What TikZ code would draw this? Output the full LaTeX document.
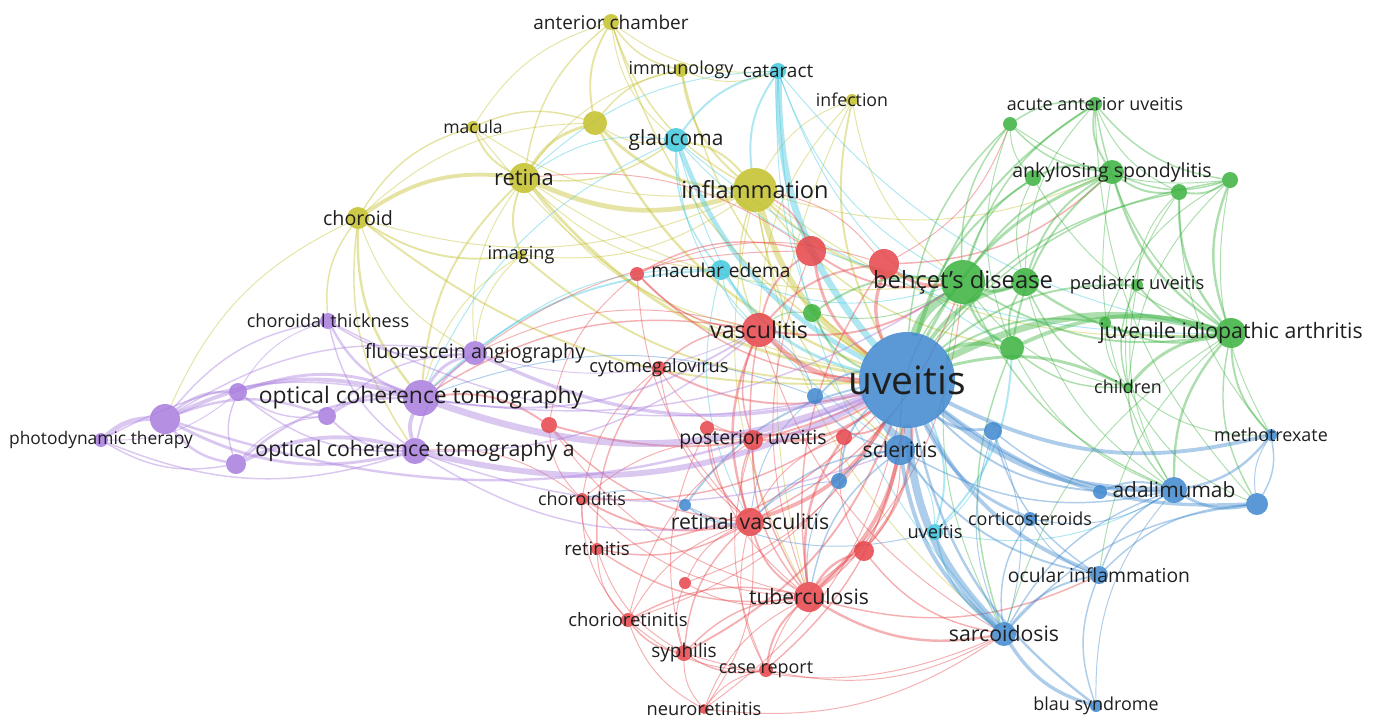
\documentclass[tikz,border=0pt]{standalone}
\usepackage{fontspec}
\setmainfont{Open Sans}
\usetikzlibrary{backgrounds}

\definecolor{vyellow}{RGB}{196,192,40}
\definecolor{vcyan}{RGB}{64,200,222}
\definecolor{vred}{RGB}{230,68,72}
\definecolor{vgreen}{RGB}{58,178,62}
\definecolor{vblue}{RGB}{62,136,206}
\definecolor{vpurple}{RGB}{168,124,222}

\tikzset{
  kw/.style={circle, inner sep=0pt, draw=none, fill=#1, fill opacity=0.85},
  lbl/.style={font=\fontsize{#1}{#1}\selectfont, text=black!88, inner sep=0pt},
  link/.style={draw=#1, draw opacity=0.42, line cap=round}
}

\begin{document}
\begin{tikzpicture}[x=0.02cm, y=-0.02cm]

  \useasboundingbox (0,0) rectangle (1381,718);

  % Draw the keyword circles (name/x/y/radius/colour)
  \foreach \n/\x/\y/\r/\c in {
      antch/611/22/8/vyellow, immun/681/70/7/vyellow, y1/595/123/12/vyellow,
      macula/473/127/6/vyellow, retina/524/178/15/vyellow, inflam/755/190/22/vyellow,
      choroid/358/218/11/vyellow, imaging/521/255/5/vyellow, infect/852/100/6/vyellow,
      catar/778/71/8/vcyan, glauc/676/140/12/vcyan, macedema/721/270/10/vcyan,
      uveitis2/935/532/8/vcyan,
      r1/811/251/15/vred, r2/884/264/15/vred, r3/637/274/7/vred, vascul/759/330/17/vred,
      cmv/659/368/7/vred, r4/549/425/8/vred, r5/707/428/7/vred, postuv/753/440/10/vred,
      r6/844/437/8/vred, choroiditis/582/499/6/vred, retvasc/750/522/14/vred,
      retinitis/597/549/6/vred, r7/864/551/10/vred, r8/685/583/6/vred, tb/809/597/15/vred,
      chorioret/628/620/7/vred, syph/684/653/8/vred, casrep/766/670/7/vred,
      neuroret/704/709/5/vred,
      aau/1095/104/7/vgreen, g1/1010/124/7/vgreen, ankspond/1112/172/12/vgreen,
      g2/1033/178/8/vgreen, g3/1179/192/8/vgreen, g4/1230/180/8/vgreen,
      behcet/963/282/22/vgreen, g5/1025/282/14/vgreen, peduv/1137/285/6/vgreen,
      g6/812/313/9/vgreen, g7/1105/323/6/vgreen, jia/1231/333/15/vgreen,
      g8/1012/348/12/vgreen, children/1128/387/5/vgreen,
      uveitis/907/380/48/vblue, b1/815/396/8/vblue, b2/993/431/9/vblue,
      scler/900/450/15/vblue, mtx/1271/435/6/vblue, b3/839/481/8/vblue,
      adalim/1174/490/13/vblue, b4/1100/492/7/vblue, b5/1257/504/11/vblue,
      b6/685/505/6/vblue, cortic/1030/519/7/vblue, ocinfl/1099/575/9/vblue,
      sarc/1004/634/12/vblue, blau/1096/706/6/vblue,
      chthick/328/321/8/vpurple, fa/475/353/12/vpurple, oct/421/398/18/vpurple,
      p1/238/392/9/vpurple, p2/327/416/9/vpurple, p3/165/419/15/vpurple,
      pdt/101/440/7/vpurple, octa/415/451/13/vpurple, p4/236/464/10/vpurple}
    \node[kw=\c, minimum size={0.04cm*\r}] (\n) at (\x,\y) {};

  \begin{pgfonlayer}{background}
    \fill[white] (0,0) rectangle (1381,718);

    % Yellow links
    \foreach \a/\b/\w in {
        antch/immun/1.5, antch/y1/2, antch/retina/1.5, antch/inflam/1.5, antch/glauc/1,
        antch/macula/1, antch/uveitis/1.5, antch/catar/1, immun/y1/1.5, immun/inflam/2,
        immun/uveitis/1.5, immun/retina/1, immun/catar/1, y1/retina/3, y1/inflam/3,
        y1/uveitis/2.5, y1/glauc/1, y1/macula/1.5, y1/choroid/1,
        macula/retina/2, macula/choroid/1.5, macula/inflam/1, macula/uveitis/1,
        retina/inflam/5, retina/choroid/4, retina/imaging/2, retina/uveitis/3, retina/oct/2,
        retina/fa/1, retina/vascul/1, retina/macedema/1, retina/glauc/1.5, retina/behcet/1,
        choroid/oct/2.5, choroid/imaging/2, choroid/inflam/1, choroid/uveitis/2,
        choroid/chthick/1.5, choroid/fa/1, choroid/octa/1.5, choroid/p3/1,
        imaging/uveitis/2, imaging/oct/1, imaging/inflam/1, imaging/fa/1,
        inflam/uveitis/6, inflam/behcet/2.5, inflam/glauc/2, inflam/vascul/1.5, inflam/scler/1.5,
        inflam/jia/1, inflam/sarc/1, inflam/tb/1, inflam/ankspond/1, inflam/g8/1.5,
        infect/uveitis/2, infect/inflam/1, infect/behcet/1, infect/tb/1, infect/vascul/1}
      \draw[link=vyellow, line width=\w*0.55pt] (\a) to[bend right=20] (\b);

    % Cyan links
    \foreach \a/\b/\w in {
        catar/uveitis/7, catar/glauc/2, catar/inflam/2, catar/behcet/1, catar/jia/1,
        catar/retina/1, catar/scler/1, catar/sarc/1, catar/g8/1,
        glauc/uveitis/5, glauc/macedema/1.5, glauc/retina/1, glauc/jia/1,
        glauc/scler/1, glauc/vascul/1, glauc/behcet/1, glauc/oct/1,
        macedema/uveitis/3, macedema/vascul/1, macedema/oct/2,
        macedema/retvasc/1, macedema/behcet/1, macedema/fa/1,
        uveitis2/uveitis/2, uveitis2/sarc/1.5, uveitis2/b2/1,
        uveitis2/g8/2, uveitis2/scler/1, uveitis2/adalim/1}
      \draw[link=vcyan, line width=\w*0.55pt] (\a) to[bend right=20] (\b);

    % Red links
    \foreach \a/\b/\w in {
        r1/uveitis/3, r1/vascul/2, r1/behcet/2, r1/retina/1, r1/inflam/1.5, r1/r3/1.5,
        r1/oct/1, r1/tb/1,
        r2/uveitis/3.5, r2/behcet/3, r2/vascul/2, r2/ankspond/1.5, r2/inflam/1, r2/tb/1.5,
        r2/r3/1, r2/g1/1,
        r3/vascul/1.5, r3/r4/1, r3/uveitis/1.5, r3/retvasc/1,
        vascul/uveitis/5, vascul/retvasc/2.5, vascul/behcet/2, vascul/tb/1.5, vascul/cmv/1.5,
        vascul/postuv/1.5, vascul/oct/1.5, vascul/fa/1, vascul/sarc/1,
        cmv/uveitis/2, cmv/retinitis/1.5, cmv/postuv/1, cmv/choroiditis/1, cmv/retvasc/1,
        r4/uveitis/2, r4/oct/2, r4/retvasc/1.5, r4/choroiditis/1, r4/tb/1,
        r5/uveitis/2, r5/retvasc/1.5, r5/tb/1, r5/syph/1,
        postuv/uveitis/3, postuv/retvasc/1.5, postuv/tb/1.5, postuv/choroiditis/1,
        postuv/chorioret/1, postuv/casrep/1,
        r6/uveitis/2, r6/tb/2.5, r6/retvasc/1, r6/r7/1,
        choroiditis/retvasc/2, choroiditis/tb/1, choroiditis/uveitis/1.5,
        choroiditis/chorioret/1, choroiditis/retinitis/1, choroiditis/octa/1,
        retvasc/uveitis/4, retvasc/tb/2, retvasc/syph/1.5, retvasc/r8/1, retvasc/behcet/1.5,
        retvasc/chorioret/1, retvasc/casrep/1,
        retinitis/tb/1.5, retinitis/syph/1, retinitis/uveitis/1.5,
        retinitis/chorioret/1, retinitis/retvasc/1.5,
        r7/uveitis/3, r7/tb/2.5, r7/casrep/1, r7/sarc/1.5, r7/scler/1,
        r8/tb/1, r8/syph/1, r8/uveitis/1,
        tb/uveitis/4, tb/sarc/2.5, tb/syph/1.5, tb/casrep/2, tb/chorioret/1.5, tb/neuroret/1,
        tb/ocinfl/1.5, tb/behcet/1, tb/scler/1.5,
        chorioret/syph/1.5, chorioret/neuroret/1, chorioret/uveitis/1, chorioret/casrep/1,
        syph/uveitis/2, syph/neuroret/1, syph/casrep/1.5, syph/sarc/1,
        casrep/uveitis/1.5, casrep/sarc/1, casrep/neuroret/1,
        neuroret/retvasc/1, neuroret/uveitis/1, neuroret/sarc/1}
      \draw[link=vred, line width=\w*0.55pt] (\a) to[bend right=20] (\b);

    % Green links
    \foreach \a/\b/\w in {
        aau/g1/1.5, aau/ankspond/2, aau/g4/1.5, aau/g3/1, aau/behcet/1.5, aau/uveitis/2,
        aau/jia/1.5, aau/b5/1, aau/g5/1,
        g1/ankspond/1.5, g1/g2/1, g1/uveitis/1.5, g1/behcet/1.5, g1/g4/1, g1/g8/1,
        ankspond/uveitis/3, ankspond/g2/2, ankspond/g3/2, ankspond/g4/1.5, ankspond/behcet/2,
        ankspond/jia/2.5, ankspond/g5/2, ankspond/g8/2, ankspond/adalim/1,
        g2/uveitis/2, g2/behcet/1.5, g2/g5/1, g2/jia/1,
        g3/g4/2, g3/jia/2.5, g3/uveitis/1.5, g3/peduv/1, g3/mtx/1, g3/children/1,
        g4/jia/2.5, g4/uveitis/1.5, g4/children/1, g4/mtx/1, g4/g7/1,
        behcet/uveitis/9, behcet/g5/3, behcet/g8/2.5, behcet/jia/2, behcet/g6/2, behcet/scler/1.5,
        behcet/adalim/1.5, behcet/sarc/1, behcet/children/1,
        g5/uveitis/4, g5/jia/2.5, g5/g8/2, g5/children/1.5, g5/adalim/1,
        peduv/jia/2, peduv/uveitis/2, peduv/children/1.5, peduv/adalim/1,
        g6/uveitis/2, g6/vascul/1, g6/behcet/1,
        g7/jia/2, g7/uveitis/2, g7/children/1,
        jia/uveitis/7, jia/children/3, jia/g8/4, jia/adalim/2.5, jia/mtx/2, jia/b5/1.5,
        jia/sarc/1, jia/ocinfl/1,
        g8/uveitis/4, g8/children/1.5, g8/sarc/1.5, g8/adalim/1,
        children/uveitis/3, children/adalim/1.5, children/mtx/1, children/b5/1}
      \draw[link=vgreen, line width=\w*0.55pt] (\a) to[bend right=20] (\b);

    % Blue links
    \foreach \a/\b/\w in {
        uveitis/b1/2, uveitis/b2/3, uveitis/scler/8, uveitis/mtx/4, uveitis/b3/2,
        uveitis/adalim/6, uveitis/b4/2, uveitis/b5/3.5, uveitis/b6/2, uveitis/cortic/3,
        uveitis/ocinfl/4, uveitis/sarc/8, uveitis/blau/2.5,
        b1/scler/1.5, b1/retvasc/1, b1/vascul/1, b1/oct/1,
        b2/ocinfl/1.5, b2/adalim/1.5, b2/sarc/1,
        scler/sarc/4, scler/b3/2, scler/ocinfl/2, scler/tb/1.5, scler/retvasc/1.5,
        scler/adalim/1.5, b3/tb/1, b3/retvasc/1,
        adalim/mtx/2.5, adalim/b5/3, adalim/b4/2, adalim/sarc/1.5, adalim/ocinfl/1.5,
        adalim/blau/1, b5/ocinfl/1.5, b5/sarc/1.5, b5/mtx/1.5,
        b6/retvasc/1.5, b6/choroiditis/1, b6/uveitis2/1,
        cortic/sarc/1.5, cortic/ocinfl/1, cortic/adalim/1,
        ocinfl/sarc/2, ocinfl/blau/1.5, sarc/blau/3.5, sarc/b2/1, mtx/b5/1}
      \draw[link=vblue, line width=\w*0.55pt] (\a) to[bend right=20] (\b);

    % Purple links
    \foreach \a/\b/\w in {
        chthick/oct/2.5, chthick/fa/1.5, chthick/p3/1.5, chthick/p1/1, chthick/octa/1.5,
        chthick/uveitis/1.5, fa/oct/3, fa/uveitis/3.5, fa/octa/2, fa/p2/1.5, fa/p3/1.5,
        fa/vascul/1, oct/uveitis/7, oct/octa/4, oct/p1/3, oct/p2/3, oct/p3/4, oct/p4/2.5,
        oct/pdt/1.5, oct/vascul/2, oct/behcet/1.5, p1/p3/2.5, p1/octa/1.5, p1/p2/1.5, p1/p4/1.5,
        p2/p3/2.5, p2/octa/2, p2/p4/1, p3/pdt/5, p3/octa/3, p3/p4/2.5, p3/uveitis/2.5,
        pdt/p4/1.5, pdt/octa/1.5, pdt/p1/1,
        octa/uveitis/6, octa/p4/4, octa/vascul/1.5, octa/retvasc/1.5, octa/scler/1.5}
      \draw[link=vpurple, line width=\w*0.55pt] (\a) to[bend right=20] (\b);
  \end{pgfonlayer}

  % Keyword labels (node/text/size)
  \foreach \n/\t/\s in {
      antch/anterior chamber/10.8, immun/immunology/10.2, macula/macula/10,
      retina/retina/12.5, inflam/inflammation/13.4, choroid/choroid/11.2,
      imaging/imaging/10.3, infect/infection/10.1, catar/cataract/10.8,
      glauc/glaucoma/11.9, macedema/macular edema/10.9, uveitis2/uveítis/10.4,
      vascul/vasculitis/13.2, cmv/cytomegalovirus/10.4, postuv/posterior uveitis/11.1,
      choroiditis/choroiditis/10.2, retvasc/retinal vasculitis/12.1, retinitis/retinitis/10.6,
      tb/tuberculosis/12, chorioret/chorioretinitis/10.5, syph/syphilis/10.8,
      casrep/case report/10.2, neuroret/neuroretinitis/10.4,
      aau/acute anterior uveitis/10.2, ankspond/ankylosing spondylitis/11.1,
      behcet/behçet’s disease/13.5, peduv/pediatric uveitis/10.4,
      jia/juvenile idiopathic arthritis/12.1, children/children/10.2,
      uveitis/uveitis/22.2, scler/scleritis/12.1, mtx/methotrexate/10.2,
      adalim/adalimumab/11.9, cortic/corticosteroids/10.2, ocinfl/ocular inflammation/11,
      sarc/sarcoidosis/12.1, blau/blau syndrome/10.2,
      chthick/choroidal thickness/10.3, fa/fluorescein angiography/11.2,
      oct/optical coherence tomography/13, pdt/photodynamic therapy/9.9,
      octa/optical coherence tomography a/12.1}
    \node[lbl=\s] (l-\n) at (\n) {\t};

\end{tikzpicture}
\end{document}
